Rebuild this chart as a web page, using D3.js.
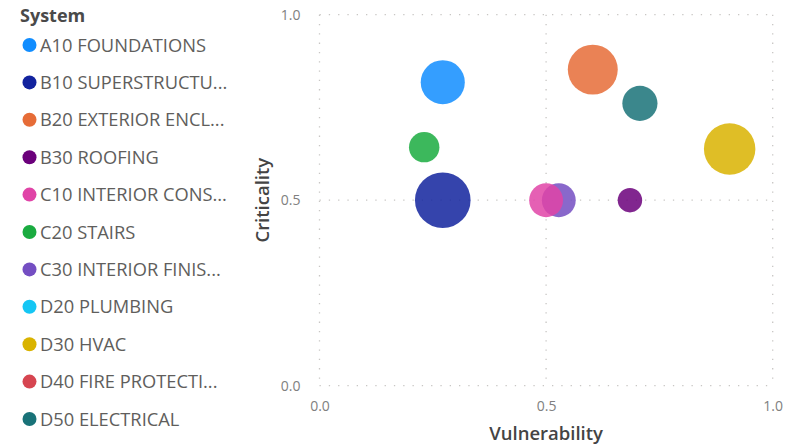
<!DOCTYPE html>
<html>
<head>
<meta charset="utf-8">
<script src="https://cdn.jsdelivr.net/npm/d3@7"></script>
<style>
  body { margin: 0; background: #fff; }
  text { font-family: "Open Sans", "Noto Sans", sans-serif; }
</style>
</head>
<body>
<div id="chart"></div>
<script>
// legend entries (full names are truncated in the legend)
const systems = ["A10 FOUNDATIONS", "B10 SUPERSTRUCTU...", "B20 EXTERIOR ENCL...", "B30 ROOFING",
  "C10 INTERIOR CONS...", "C20 STAIRS", "C30 INTERIOR FINIS...", "D20 PLUMBING", "D30 HVAC",
  "D40 FIRE PROTECTI...", "D50 ELECTRICAL"];
const colors = ["#118DFF", "#12239E", "#E66C37", "#6B007B", "#E044A7", "#1AAB40", "#744EC2",
  "#15C6F4", "#D9B300", "#D64550", "#197278"];

// bubbles: system index, vulnerability (x), criticality (y), size
const bubbleSystem = [1, 2, 8, 0, 10, 6, 4, 5, 3];
const vulnerability = [0.272, 0.603, 0.905, 0.272, 0.707, 0.528, 0.500, 0.231, 0.685];
const criticality = [0.500, 0.852, 0.638, 0.818, 0.761, 0.500, 0.500, 0.643, 0.500];
const bubbleSize = [700, 565, 600, 440, 280, 260, 260, 210, 135];

const xTicks = [0, 0.5, 1];
const yTicks = [0, 0.5, 1];

const width = 785, height = 445;
const svg = d3.select("#chart").append("svg")
  .attr("width", width).attr("height", height);

// legend
const legend = svg.append("g");
legend.append("text")
  .attr("x", 20).attr("y", 16).attr("dy", "0.36em")
  .attr("font-size", 18).attr("font-weight", 700)
  .attr("fill", "#4a4a4a")
  .text("System");
const item = legend.selectAll(".item").data(systems).enter().append("g")
  .attr("transform", (d, i) => `translate(0,${45 + i * 37.4})`);
item.append("circle").attr("cx", 29.5).attr("cy", 0).attr("r", 7)
  .attr("fill", (d, i) => colors[i]);
item.append("text").attr("x", 40).attr("y", 0).attr("dy", "0.36em")
  .attr("font-size", 18.3).attr("fill", "#605E5C")
  .text(d => d);

// plot
const x = d3.scaleLinear().domain([0, 1]).range([319.5, 772.7]);
const y = d3.scaleLinear().domain([0, 1]).range([385.7, 14.7]);
const r = d3.scaleSqrt().domain([0, 700]).range([0, 27.8]);

const grid = svg.append("g");
grid.selectAll(".vg").data(xTicks).enter().append("line")
  .attr("x1", d => x(d)).attr("x2", d => x(d))
  .attr("y1", y(1)).attr("y2", y(0))
  .attr("stroke", "#C8C6C4").attr("stroke-width", 1.3)
  .attr("stroke-dasharray", "1.3,8");
grid.selectAll(".hg").data(yTicks).enter().append("line")
  .attr("y1", d => y(d)).attr("y2", d => y(d))
  .attr("x1", x(0)).attr("x2", x(1))
  .attr("stroke", "#C8C6C4").attr("stroke-width", 1.3)
  .attr("stroke-dasharray", "1.3,8");

const xAxis = svg.append("g").attr("transform", `translate(0,${y(0) + 12})`)
  .call(d3.axisBottom(x).tickValues(xTicks).tickFormat(d3.format(".1f")).tickSize(0));
xAxis.select(".domain").remove();
xAxis.selectAll("text").attr("font-size", 14).attr("fill", "#808080").attr("font-family", "Open Sans");

const yAxis = svg.append("g").attr("transform", `translate(${x(0) - 16},0)`)
  .call(d3.axisLeft(y).tickValues(yTicks).tickFormat(d3.format(".1f")).tickSize(0));
yAxis.select(".domain").remove();
yAxis.selectAll("text").attr("font-size", 14).attr("fill", "#808080").attr("font-family", "Open Sans");

svg.append("text")
  .attr("x", (x(0) + x(1)) / 2).attr("y", 433).attr("dy", "0.36em")
  .attr("text-anchor", "middle")
  .attr("font-size", 18.5).attr("font-weight", 600).attr("fill", "#444")
  .text("Vulnerability");
svg.append("text")
  .attr("transform", `translate(262,${y(0.5)}) rotate(-90)`)
  .attr("dy", "0.36em")
  .attr("text-anchor", "middle")
  .attr("font-size", 18.5).attr("font-weight", 600).attr("fill", "#444")
  .text("Criticality");

// bubbles
svg.append("g").selectAll("circle")
  .data(bubbleSystem.map((s, i) => ({ s, v: vulnerability[i], c: criticality[i], z: bubbleSize[i] })))
  .enter().append("circle")
  .attr("cx", d => x(d.v)).attr("cy", d => y(d.c)).attr("r", d => r(d.z))
  .attr("fill", d => colors[d.s]).attr("fill-opacity", 0.85);
</script>
</body>
</html>
